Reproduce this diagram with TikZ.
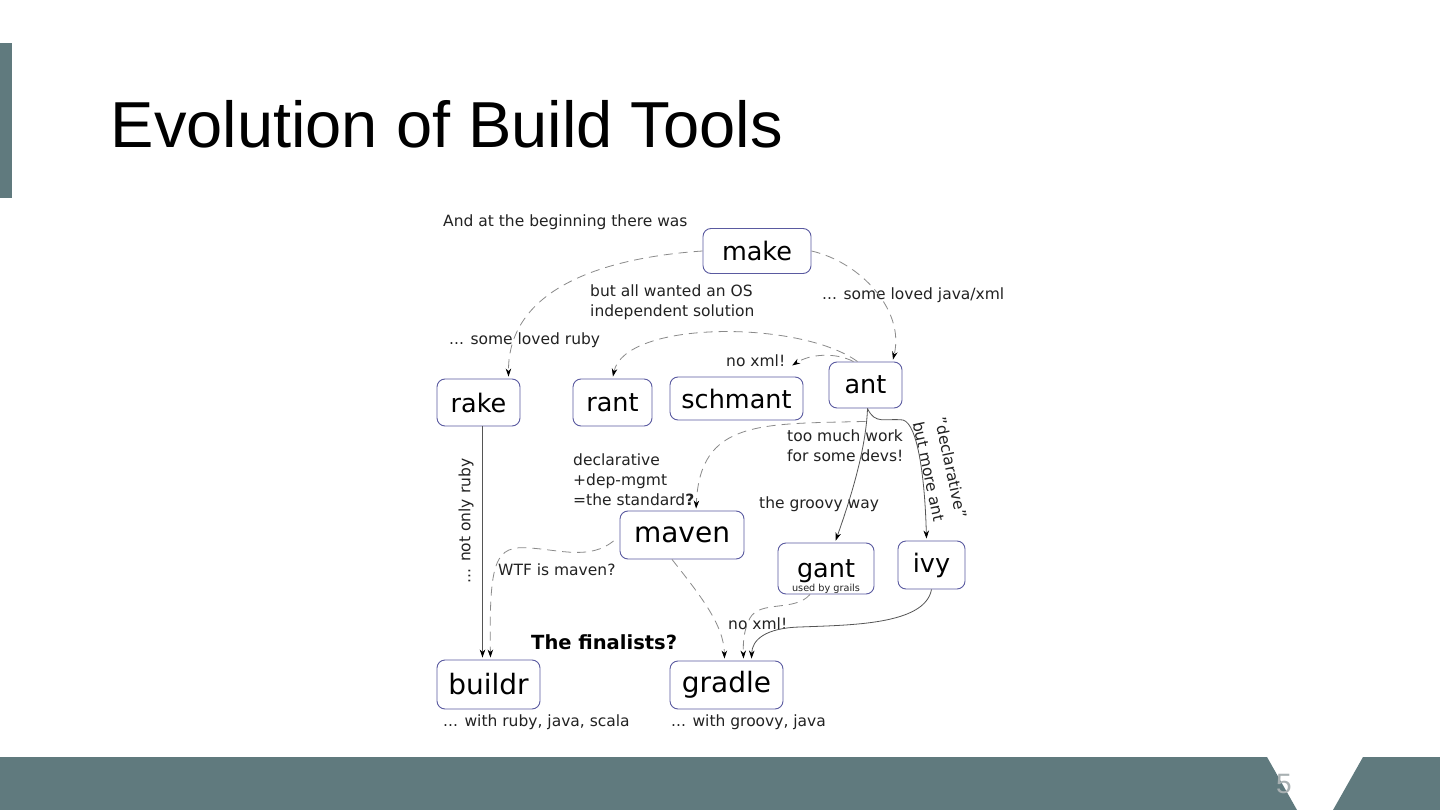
\documentclass[tikz,border=0pt]{standalone}
\usepackage{fontspec}
\setmainfont{DejaVu Sans}
\newfontfamily\titlefont{Liberation Sans}
\usepackage{tikz}
\usetikzlibrary{arrows.meta}
\definecolor{Slate}{HTML}{607A7E}
\definecolor{BoxLine}{HTML}{5A5AA0}
\definecolor{Dash}{HTML}{8A8A8A}
\definecolor{Wire}{HTML}{555555}
\definecolor{Ink}{HTML}{222222}
\definecolor{PageNo}{HTML}{A8B0B2}

\begin{document}
\begin{tikzpicture}[x=1pt,y=-1pt,
  tool/.style={draw=BoxLine,line width=.9pt,rounded corners=8pt,inner sep=0pt,font=\fontsize{25.5}{28}\selectfont},
  bigtool/.style={tool,font=\fontsize{28}{30}\selectfont},
  note/.style={font=\fontsize{15.5}{20}\selectfont,text=Ink,inner sep=0pt,align=left},
  dashflow/.style={Dash,line width=.8pt,dash pattern=on 9pt off 6pt,shorten >=2pt,-{Stealth[length=8pt,width=5.5pt,inset=2.5pt,black]}},
  flow/.style={Wire,line width=.8pt,shorten >=2pt,-{Stealth[length=8pt,width=5.5pt,inset=2.5pt,black]}}]
  \useasboundingbox (0,0) rectangle (1440,810);
  \fill[white] (0,0) rectangle (1440,810);
  \fill[Slate] (0,43) rectangle (12,198);
  \fill[Slate] (0,757) -- (1267,757) -- (1297,810) -- (0,810) -- cycle;
  \fill[Slate] (1363,757) -- (1440,757) -- (1440,810) -- (1333,810) -- cycle;
  \node[anchor=base west,inner sep=0pt,font=\titlefont\fontsize{65}{70}\selectfont] (title) at (110.5,147.5) {Evolution of Build Tools};
  \node[inner sep=0pt,text=PageNo,font=\titlefont\fontsize{28}{30}\selectfont] (pageno) at (1284,784) {5};

  \node[tool,minimum width=108pt,minimum height=45pt] (make) at (757,251) {make};
  \node[tool,minimum width=83pt,minimum height=47pt] (rake) at (478.5,402.5) {rake};
  \node[tool,minimum width=79pt,minimum height=47pt] (rant) at (612.5,402.5) {rant};
  \node[tool,minimum width=133pt,minimum height=43pt] (schmant) at (736.5,398.5) {schmant};
  \node[tool,minimum width=73pt,minimum height=46pt] (ant) at (865.5,385) {ant};
  \node[bigtool,minimum width=124pt,minimum height=48pt] (maven) at (682,535) {maven};
  \node[tool,minimum width=96pt,minimum height=51pt,text height=20pt,text depth=2pt] (gant) at (826,568.5) {gant};
  \node[inner sep=0pt,anchor=base,font=\fontsize{9.7}{11}\selectfont,text=Ink] (grails) at (826,591) {used by grails};
  \node[tool,minimum width=67pt,minimum height=48pt] (ivy) at (931.5,565) {ivy};
  \node[bigtool,minimum width=103pt,minimum height=49pt] (buildr) at (488.5,684.5) {buildr};
  \node[bigtool,minimum width=113pt,minimum height=48pt] (gradle) at (726.5,685) {gradle};

  \node[note,anchor=base west] (begin) at (443,226.5) {And at the beginning there was};
  \node[note,anchor=north west] (osindep) at (590,284.5) {but all wanted an OS\\independent solution};
  \node[note,anchor=base west] (lovedjava) at (822,300) {... some loved java/xml};
  \node[note,anchor=base west] (lovedruby) at (449,344.5) {... some loved ruby};
  \node[note,anchor=base west] (noxmlup) at (726,366.5) {no xml!};
  \node[note,anchor=north west] (toomuch) at (787,429.5) {too much work\\for some devs!};
  \node[note,anchor=north west] (standard) at (573,454) {declarative\\+dep-mgmt\\=the standard\textbf{?}};
  \node[note,anchor=base west] (groovyway) at (759,508) {the groovy way};
  \node[note,anchor=center,rotate=-78,font=\fontsize{15.5}{22.5}\selectfont] (moreant) at (940,470) {"declarative"\\but more ant};
  \node[note,anchor=center,rotate=90] (notruby) at (466,521) {... not only ruby};
  \node[note,anchor=base west] (wtf) at (498,575.5) {WTF is maven?};
  \node[note,anchor=base west] (noxmldown) at (728,629.5) {no xml!};
  \node[note,anchor=base west,font=\bfseries\fontsize{19.5}{22}\selectfont,text=black] (finalists) at (531,649.5) {The finalists?};
  \node[note,anchor=base west] (withruby) at (443,726) {... with ruby, java, scala};
  \node[note,anchor=base west] (withgroovy) at (671,726) {... with groovy, java};

  \draw[dashflow] (make.west) .. controls (600,258) and (508,290) .. ([xshift=30pt]rake.north);
  \draw[dashflow] (make.east) .. controls (860,262) and (905,310) .. ([xshift=27pt]ant.north);
  \draw[dashflow] ([xshift=-8pt]ant.north) .. controls (800,320) and (625,320) .. (rant.north);
  \draw[dashflow] ([xshift=-12pt]ant.north) .. controls (835,352) and (810,354) .. ([xshift=-13pt,yshift=10pt]schmant.north east);
  \draw[dashflow] ([yshift=-13pt]ant.south) .. controls (760,424) and (700,420) .. ([xshift=14pt]maven.north);
  \draw[flow] ([xshift=2pt]ant.south) .. controls (866,450) and (850,500) .. ([xshift=9pt]gant.north);
  \draw[flow] ([xshift=2pt]ant.south) .. controls (875,425) and (885,418) .. (903,420) .. controls (918,424) and (925,480) .. ([xshift=-5pt]ivy.north);
  \draw[flow] ([xshift=4pt]rake.south) -- ([xshift=-6pt]buildr.north);
  \draw[dashflow] ([xshift=-6pt,yshift=-6pt]maven.west) .. controls (590,560) and (560,550) .. (530,548) .. controls (495,545) and (489,560) .. ([xshift=2pt]buildr.north);
  \draw[dashflow] ([xshift=-10pt]maven.south) .. controls (700,595) and (724,625) .. ([xshift=-2pt]gradle.north);
  \draw[dashflow] ([xshift=-16pt]gant.south) .. controls (795,612) and (760,600) .. (750,618) .. controls (744,630) and (743,640) .. ([xshift=17pt]gradle.north);
  \draw[flow] (ivy.south) .. controls (925,625) and (850,625) .. (800,627) .. controls (765,628) and (752,640) .. ([xshift=25pt]gradle.north);
\end{tikzpicture}
\end{document}
